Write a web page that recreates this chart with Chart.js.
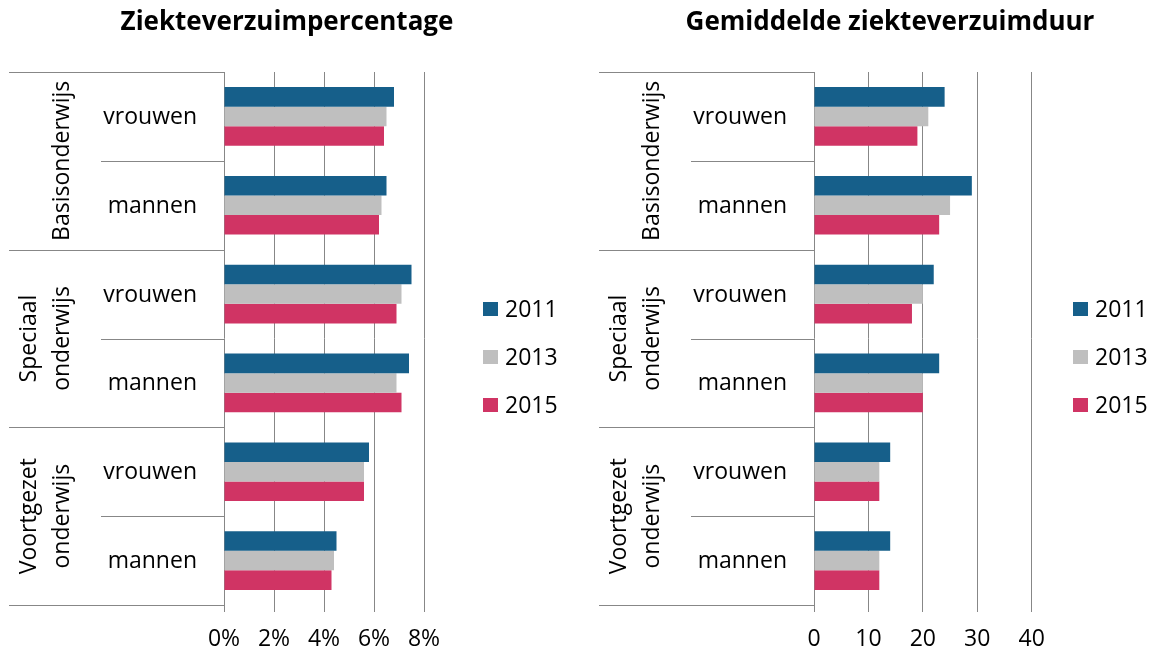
<!DOCTYPE html>
<html>
<head>
<meta charset="utf-8">
<script src="https://cdn.jsdelivr.net/npm/chart.js@4.4.1/dist/chart.umd.min.js"></script>
<style>
    body { margin: 0; background: #ffffff; }
    .panel { position: absolute; top: 0; height: 649px; }
</style>
</head>
<body>
<div class="panel" style="left:0;width:590px"><canvas id="pctChart"></canvas></div>
<div class="panel" style="left:590px;width:577px"><canvas id="durChart"></canvas></div>
<script>
// --- Data ---
const subLabels = ['vrouwen', 'mannen', 'vrouwen', 'mannen', 'vrouwen', 'mannen'];
const groupLabels = [['Basisonderwijs'], ['Speciaal', 'onderwijs'], ['Voortgezet', 'onderwijs']];
const years = ['2011', '2013', '2015'];

const pct2011 = [6.8, 6.5, 7.5, 7.4, 5.8, 4.5];
const pct2013 = [6.5, 6.3, 7.1, 6.9, 5.6, 4.4];
const pct2015 = [6.4, 6.2, 6.9, 7.1, 5.6, 4.3];

const dur2011 = [24, 29, 22, 23, 14, 14];
const dur2013 = [21, 25, 20, 20, 12, 12];
const dur2015 = [19, 23, 18, 20, 12, 12];

const pctTicks = [0, 2, 4, 6, 8];
const durTicks = [0, 10, 20, 30, 40];

const COLORS = ['#165f8a', '#bfbfbf', '#d03464'];
const GRID = '#878787';
const FONT = "'Open Sans', sans-serif";

// draws titles, the two-level category labels, separators and the legend
const decorPlugin = {
    id: 'decor',
    afterDraw(chart, args, opts) {
        const ctx = chart.ctx;
        const y = chart.scales.y;
        const left = chart.chartArea.left;
        ctx.save();

        // title
        ctx.fillStyle = '#000';
        ctx.font = `bold 26px ${FONT}`;
        ctx.textAlign = 'center';
        ctx.textBaseline = 'alphabetic';
        ctx.fillText(opts.title, opts.titleX, 30);

        // separators between categories
        ctx.strokeStyle = GRID;
        ctx.lineWidth = 1;
        for (let i = 0; i <= subLabels.length; i++) {
            const py = Math.round(y.getPixelForValue(i - 0.5)) + 0.5;
            const x0 = i % 2 === 0 ? 9 : 101;
            ctx.beginPath();
            ctx.moveTo(x0, py);
            ctx.lineTo(left, py);
            ctx.stroke();
        }

        // sub labels
        ctx.font = `23px ${FONT}`;
        ctx.textAlign = 'right';
        ctx.textBaseline = 'middle';
        subLabels.forEach((lab, i) => {
            ctx.fillText(lab, left - 27, y.getPixelForValue(i) + 1);
        });

        // group labels, rotated
        ctx.textAlign = 'center';
        ctx.textBaseline = 'alphabetic';
        groupLabels.forEach((lines, g) => {
            const cy = (y.getPixelForValue(g * 2) + y.getPixelForValue(g * 2 + 1)) / 2;
            lines.forEach((line, k) => {
                const bx = 69 - (lines.length - 1 - k) * 33;
                ctx.save();
                ctx.translate(bx, cy);
                ctx.rotate(-Math.PI / 2);
                ctx.fillText(line, 0, 0);
                ctx.restore();
            });
        });

        // legend
        ctx.textAlign = 'left';
        ctx.textBaseline = 'middle';
        chart.data.datasets.forEach((ds, i) => {
            const cy = 309 + i * 48;
            ctx.fillStyle = ds.backgroundColor;
            ctx.fillRect(483, cy - 7, 15, 14);
            ctx.fillStyle = '#000';
            ctx.fillText(ds.label, 505, cy + 1);
        });

        ctx.restore();
    }
};

function makeChart(id, s1, s2, s3, ticks, suffix, title, titleX, padRight) {
    return new Chart(document.getElementById(id), {
        type: 'bar',
        data: {
            labels: subLabels,
            datasets: [s1, s2, s3].map((d, i) => ({
                label: years[i],
                data: d,
                backgroundColor: COLORS[i],
                borderWidth: 0,
                categoryPercentage: 0.66,
                barPercentage: 1.0
            }))
        },
        options: {
            indexAxis: 'y',
            responsive: true,
            maintainAspectRatio: false,
            animation: false,
            layout: { padding: { left: 224, right: padRight, top: 72, bottom: 0 } },
            scales: {
                y: {
                    display: true,
                    ticks: { display: false },
                    grid: { display: false },
                    border: { display: false },
                    afterFit: s => { s.width = 0; }
                },
                x: {
                    min: ticks[0],
                    max: ticks[ticks.length - 1],
                    afterBuildTicks: s => { s.ticks = ticks.map(v => ({ value: v })); },
                    ticks: {
                        color: '#000',
                        font: { family: FONT, size: 23 },
                        padding: 14,
                        maxRotation: 0,
                        callback: v => v + suffix
                    },
                    grid: { color: GRID, lineWidth: 1, tickLength: 7, drawTicks: true },
                    border: { display: false },
                    afterFit: s => { s.height = 44; }
                }
            },
            plugins: {
                legend: { display: false },
                tooltip: { enabled: false },
                decor: { title: title, titleX: titleX }
            }
        },
        plugins: [decorPlugin]
    });
}

makeChart('pctChart', pct2011, pct2013, pct2015, pctTicks, '%', 'Ziekteverzuimpercentage', 287, 166);
makeChart('durChart', dur2011, dur2013, dur2015, durTicks, '', 'Gemiddelde ziekteverzuimduur', 300, 135.3);
</script>
</body>
</html>
